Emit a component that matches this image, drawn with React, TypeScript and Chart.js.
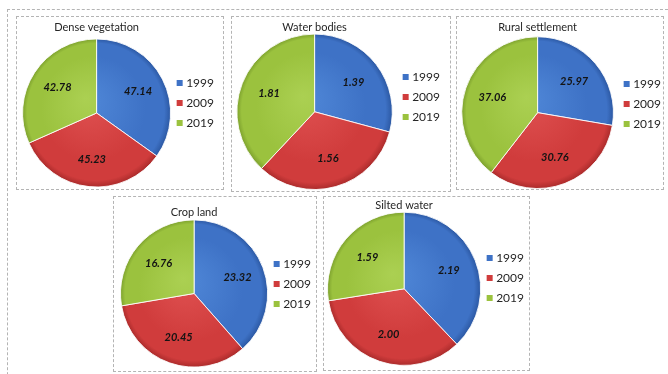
import React, { useEffect, useRef } from 'react';
import { Chart, registerables } from 'chart.js';

Chart.register(...registerables);

// ---------- data ----------
const years = ['1999', '2009', '2019'];
const chartTitles = ['Dense vegetation', 'Water bodies', 'Rural settlement', 'Crop land', 'Silted water'];
const denseVegetation = [47.14, 45.23, 42.78];
const waterBodies = [1.39, 1.56, 1.81];
const ruralSettlement = [25.97, 30.76, 37.06];
const cropLand = [23.32, 20.45, 16.76];
const siltedWater = [2.19, 2.0, 1.59];
const seriesValues = [denseVegetation, waterBodies, ruralSettlement, cropLand, siltedWater];

// ---------- styles ----------
const solidColors = ['#3e72c6', '#d03c3c', '#9bc23e'];
const lightColors = ['#5088d8', '#e05252', '#abd052'];
const darkColors = ['#2a56a0', '#a82a2a', '#7a9e2c'];
const FONT = 'Lato, "Open Sans", sans-serif';

// box: [left, top, right, bottom] of the dashed frame (page px)
const layouts = [
  { box: [16, 16, 223, 189], titlePad: { top: 3.4, bottom: 4.9 }, pad: { left: 5, right: -1, bottom: 1.5 }, legendTop: 52 },
  { box: [231, 16, 450, 191], titlePad: { top: 3.4, bottom: 0 }, pad: { left: 0, right: 0, bottom: 1 }, legendTop: 46 },
  { box: [456, 16, 663, 189], titlePad: { top: 3.4, bottom: 2.7 }, pad: { left: 0, right: -8, bottom: 0 }, legendTop: 53 },
  { box: [113, 196, 316, 371], titlePad: { top: 8.7, bottom: 0.1 }, pad: { left: 6, right: -5, bottom: 3 }, legendTop: 53 },
  { box: [323, 196, 529, 370], titlePad: { top: 1.4, bottom: 0 }, pad: { left: 3, right: -5, bottom: 4 }, legendTop: 47 },
];

const valueLabels = {
  id: 'valueLabels',
  afterDatasetsDraw(chart: any) {
    const ctx = chart.ctx;
    const meta = chart.getDatasetMeta(0);
    const values = chart.data.datasets[0].data;
    ctx.save();
    ctx.font = `italic bold 11px ${FONT}`;
    ctx.fillStyle = '#141414';
    ctx.textAlign = 'center';
    ctx.textBaseline = 'middle';
    meta.data.forEach((arc: any, i: number) => {
      const p = arc.getProps(['x', 'y', 'startAngle', 'endAngle', 'outerRadius'], true);
      const mid = (p.startAngle + p.endAngle) / 2;
      const d = p.outerRadius * 0.63;
      ctx.fillText(Number(values[i]).toFixed(2), p.x + Math.cos(mid) * d, p.y + Math.sin(mid) * d);
    });
    ctx.restore();
  },
};

function sliceFill(c: any) {
  const chart = c.chart;
  const area = chart.chartArea;
  const i = c.dataIndex;
  if (!area) return solidColors[i];
  const cx = (area.left + area.right) / 2;
  const cy = (area.top + area.bottom) / 2;
  const r = Math.min(area.right - area.left, area.bottom - area.top) / 2;
  const g = chart.ctx.createRadialGradient(cx - r * 0.15, cy - r * 0.2, 0, cx, cy, r);
  g.addColorStop(0, lightColors[i]);
  g.addColorStop(0.7, solidColors[i]);
  g.addColorStop(0.92, solidColors[i]);
  g.addColorStop(1, darkColors[i]);
  return g;
}

function PieBox({ idx }: { idx: number }) {
  const ref = useRef<HTMLCanvasElement | null>(null);
  const lay = layouts[idx];
  const [l, t, r, b] = lay.box;
  const W = r - l - 1;
  const H = b - t - 1;

  useEffect(() => {
    let chart: any = null;
    let cancelled = false;
    const make = () => {
      if (cancelled || !ref.current) return;
      chart = new Chart(ref.current, {
        type: 'pie',
        data: {
          labels: years,
          datasets: [
            {
              data: seriesValues[idx],
              backgroundColor: sliceFill,
              borderColor: 'rgba(255,255,255,0.85)',
              borderWidth: 1,
            },
          ],
        },
        options: {
          responsive: false,
          animation: false,
          devicePixelRatio: 1,
          layout: { padding: { top: 0, left: lay.pad.left, right: lay.pad.right, bottom: lay.pad.bottom } },
          plugins: {
            title: {
              display: true,
              text: chartTitles[idx],
              fullSize: false,
              color: '#262626',
              font: { family: FONT, size: 11, weight: 'normal', lineHeight: 1.2 },
              padding: { top: lay.titlePad.top, bottom: lay.titlePad.bottom },
            },
            legend: {
              display: true,
              position: 'right',
              align: 'start',
              title: {
                display: true,
                text: '',
                font: { size: 1, lineHeight: 1 },
                padding: { top: lay.legendTop - 1, bottom: 0 },
              },
              labels: {
                usePointStyle: true,
                boxWidth: 1,
                boxHeight: 6,
                padding: 8,
                color: '#262626',
                font: { family: FONT, size: 12 },
                generateLabels: () =>
                  years.map((y, i) => ({
                    text: y,
                    fillStyle: solidColors[i],
                    strokeStyle: solidColors[i],
                    lineWidth: 0,
                    pointStyle: 'rect',
                    hidden: false,
                    index: i,
                    fontColor: '#262626',
                  })),
              },
            },
            tooltip: { enabled: false },
          },
        },
        plugins: [valueLabels],
      } as any);
    };
    const fonts: any = (document as any).fonts;
    if (fonts && fonts.load) {
      Promise.all([
        fonts.load(`12px Lato`),
        fonts.load(`italic bold 11px Lato`),
      ])
        .catch(() => null)
        .then(make);
    } else {
      make();
    }
    return () => {
      cancelled = true;
      if (chart) chart.destroy();
    };
  }, [idx]);

  return (
    <div
      style={{
        position: 'absolute',
        left: l,
        top: t,
        width: r - l + 1,
        height: b - t + 1,
        boxSizing: 'border-box',
        border: '1px dashed #b4b4b4',
        background: '#fff',
      }}
    >
      <canvas ref={ref} width={W} height={H} style={{ display: 'block', width: W, height: H }} />
    </div>
  );
}

export default function App() {
  return (
    <div
      style={{
        position: 'fixed',
        left: 0,
        top: 0,
        width: 668,
        height: 374,
        background: '#fff',
        overflow: 'hidden',
      }}
    >
      <div
        style={{
          position: 'absolute',
          left: 7,
          top: 9,
          width: 660,
          height: 400,
          borderTop: '1px dashed #b4b4b4',
          borderLeft: '1px dashed #b4b4b4',
        }}
      />
      {layouts.map((_, i) => (
        <PieBox key={i} idx={i} />
      ))}
    </div>
  );
}
